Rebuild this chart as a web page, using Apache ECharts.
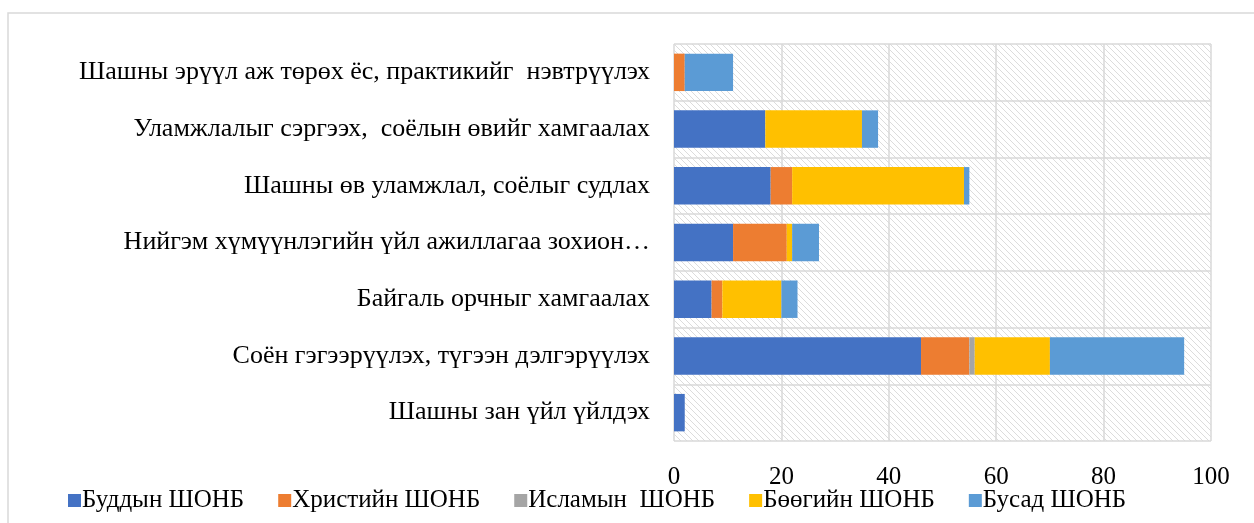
<!DOCTYPE html>
<html>
<head>
<meta charset="utf-8">
<script src="https://cdn.jsdelivr.net/npm/echarts@6/dist/echarts.min.js"></script>
<style>
  html, body { margin: 0; padding: 0; background: #fff; }
  #main { width: 1254px; height: 523px; }
</style>
</head>
<body>
<div id="main"></div>
<script>
// categories, top to bottom as in the picture
var categories = [
  "Шашны эрүүл аж төрөх ёс, практикийг  нэвтрүүлэх",
  "Уламжлалыг сэргээх,  соёлын өвийг хамгаалах",
  "Шашны өв уламжлал, соёлыг судлах",
  "Нийгэм хүмүүнлэгийн үйл ажиллагаа зохион…",
  "Байгаль орчныг хамгаалах",
  "Соён гэгээрүүлэх, түгээн дэлгэрүүлэх",
  "Шашны зан үйл үйлдэх"
];
var seriesNames = ["Буддын ШОНБ", "Христийн ШОНБ", "Исламын  ШОНБ", "Бөөгийн ШОНБ", "Бусад ШОНБ"];
var buddhist  = [0, 17, 18, 11, 7, 46, 2];
var christian = [2, 0, 4, 10, 2, 9, 0];
var islamic   = [0, 0, 0, 0, 0, 1, 0];
var shamanist = [0, 18, 32, 1, 11, 14, 0];
var other     = [9, 3, 1, 5, 3, 25, 0];
var xTicks = [0, 20, 40, 60, 80, 100];

var colors = ["#4472c4", "#ed7d31", "#a5a5a5", "#ffc000", "#5b9bd5"];
var seriesData = [buddhist, christian, islamic, shamanist, other];

// light diagonal hatching for plot area
var hatch = document.createElement("canvas");
hatch.width = 6; hatch.height = 6;
var hc = hatch.getContext("2d");
hc.fillStyle = "#ffffff";
hc.fillRect(0, 0, 6, 6);
hc.strokeStyle = "#dcdcdc";
hc.lineWidth = 1;
hc.beginPath();
hc.moveTo(-1, -1); hc.lineTo(7, 7);
hc.moveTo(-1, 5); hc.lineTo(1, 7);
hc.moveTo(5, -1); hc.lineTo(7, 1);
hc.stroke();

var font = "'Liberation Serif', 'Times New Roman', serif";

var chart = echarts.init(document.getElementById("main"));
var option = {
  animation: false,
  color: colors,
  textStyle: { fontFamily: font, color: "#000" },
  graphic: [{
    type: "rect",
    shape: { x: 8, y: 13, width: 1260, height: 530 },
    style: { fill: "none", stroke: "#d9d9d9", lineWidth: 1.5 },
    silent: true
  }],
  grid: {
    left: 674, right: 43, top: 44, bottom: 82,
    show: true,
    borderWidth: 0,
    backgroundColor: { image: hatch, repeat: "repeat" }
  },
  legend: {
    left: 63, top: 483,
    itemWidth: 13, itemHeight: 13, itemGap: 34,
    icon: "rect",
    textStyle: { fontFamily: font, fontSize: 25, color: "#000", padding: [0, 0, 0, -4] },
    data: seriesNames
  },
  xAxis: {
    type: "value",
    min: 0, max: 100, interval: 20,
    axisLine: { show: false },
    axisTick: { show: false },
    axisLabel: { fontSize: 25, color: "#000", margin: 24, fontFamily: font },
    splitLine: { lineStyle: { color: "#d9d9d9", width: 1.5 } }
  },
  yAxis: {
    type: "category",
    inverse: true,
    data: categories,
    axisLine: { show: false },
    axisTick: { show: false },
    axisLabel: { fontSize: 26, color: "#000", margin: 24, fontFamily: font },
    splitLine: { show: true, lineStyle: { color: "#d9d9d9", width: 1.5 } }
  },
  series: seriesNames.map(function (n, i) {
    return {
      name: n,
      type: "bar",
      stack: "total",
      barWidth: "66%",
      data: seriesData[i]
    };
  })
};
chart.setOption(option);
</script>
</body>
</html>
